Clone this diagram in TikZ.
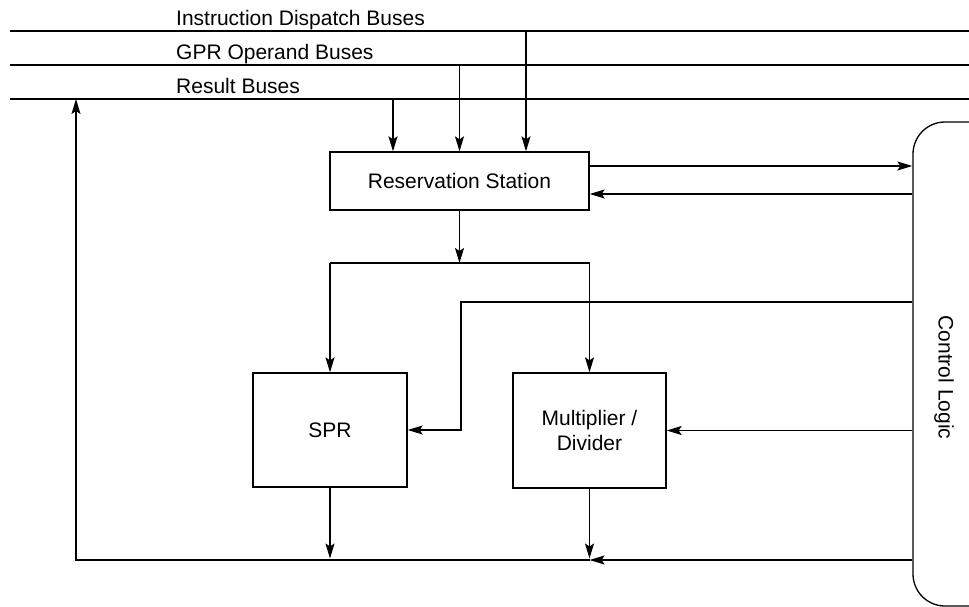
\documentclass[tikz,border=0pt]{standalone}
\usepackage{fontspec}
\setmainfont{Liberation Sans}
\usetikzlibrary{arrows.meta,calc}
\tikzset{
  every picture/.style={x=1pt,y=-1pt},
  ln/.style={line width=1.3pt},
  arr/.style={ln,-{Stealth[length=15pt,width=9pt,inset=3pt]}},
  box/.style={draw,ln,rectangle,inner sep=0pt,align=center,font=\fontsize{21}{25}\selectfont},
  lbl/.style={inner sep=0pt,font=\fontsize{21}{25}\selectfont}
}
\begin{document}
\begin{tikzpicture}
\useasboundingbox (0,0) rectangle (969,606);
\clip (0,0) rectangle (969,606);
% buses
\draw[ln] (10,31) -- (969,31);
\draw[ln] (10,65) -- (969,65);
\draw[ln] (10,99) -- (969,99);
\node[lbl,anchor=base west] (lidb) at (176,25) {Instruction Dispatch Buses};
\node[lbl,anchor=base west] (lgpr) at (176,59) {GPR Operand Buses};
\node[lbl,anchor=base west] (lres) at (176,93) {Result Buses};
% blocks
\node[box,minimum width=259pt,minimum height=58pt] (rs) at (459.5,181) {Reservation Station};
\node[box,minimum width=154pt,minimum height=114pt] (spr) at (330,430) {SPR};
\node[box,minimum width=153pt,minimum height=115pt] (mul) at (589.5,430.5) {Multiplier /\\Divider};
\node[draw,ln,rectangle,rounded corners=32pt,minimum width=107pt,minimum height=484pt,inner sep=0pt] (ctrl) at (966.5,364) {};
\node[lbl,rotate=-90] (ctrllbl) at (944,377.5) {Control Logic};
\coordinate (split) at (459.5,263);
\coordinate (bot) at (589.5,560);
\coordinate (left) at (76,560);
% bus to RS
\draw[arr] (393,99) -- (393,99 |- rs.north);
\draw[arr] (459.5,65) -- (rs.north);
\draw[arr] (526,31) -- (526,31 |- rs.north);
% RS <-> control
\draw[arr] (rs.east |- 0,166) -- (ctrl.west |- 0,166);
\draw[arr] (ctrl.west |- 0,194) -- (rs.east |- 0,194);
% RS to units
\draw[arr] (rs.south) -- (split);
\draw[ln] (spr.north |- split) -- (mul.north |- split);
\draw[arr] (spr.north |- split) -- (spr.north);
\draw[arr] (mul.north |- split) -- (mul.north);
% control to units
\draw[arr] (ctrl.west |- 0,302) -- (461,302) |- (spr.east);
\draw[arr] (ctrl.west |- mul.east) -- (mul.east);
% results
\draw[arr,shorten >=1.5pt] (spr.south) -- (spr.south |- bot);
\draw[arr,shorten >=1.5pt] (mul.south) -- (bot);
\draw[arr] (ctrl.west |- bot) -- (bot);
\draw[arr] (bot) -- (left) -- (76,99);
\end{tikzpicture}
\end{document}
